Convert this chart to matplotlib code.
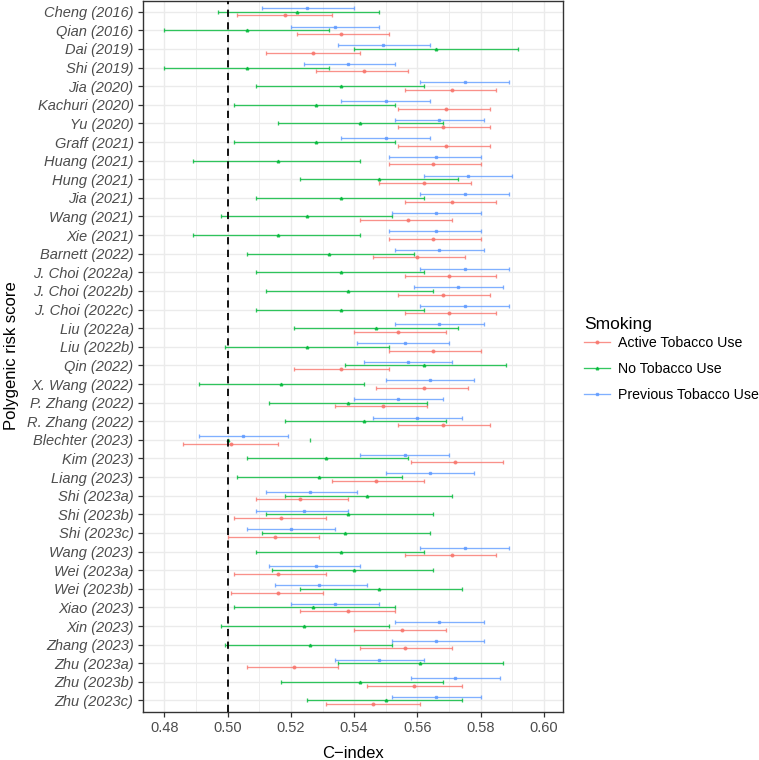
import numpy as np
import matplotlib
matplotlib.use("Agg")
import matplotlib.pyplot as plt
from matplotlib.lines import Line2D
from matplotlib.ticker import MultipleLocator

plt.rcParams['font.family'] = ['Liberation Sans', 'DejaVu Sans']

studies = ["Cheng (2016)", "Qian (2016)", "Dai (2019)", "Shi (2019)", "Jia (2020)",
           "Kachuri (2020)", "Yu (2020)", "Graff (2021)", "Huang (2021)", "Hung (2021)",
           "Jia (2021)", "Wang (2021)", "Xie (2021)", "Barnett (2022)", "J. Choi (2022a)",
           "J. Choi (2022b)", "J. Choi (2022c)", "Liu (2022a)", "Liu (2022b)", "Qin (2022)",
           "X. Wang (2022)", "P. Zhang (2022)", "R. Zhang (2022)", "Blechter (2023)",
           "Kim (2023)", "Liang (2023)", "Shi (2023a)", "Shi (2023b)", "Shi (2023c)",
           "Wang (2023)", "Wei (2023a)", "Wei (2023b)", "Xiao (2023)", "Xin (2023)",
           "Zhang (2023)", "Zhu (2023a)", "Zhu (2023b)", "Zhu (2023c)"]

# Active Tobacco Use
active_est = [0.518, 0.536, 0.527, 0.543, 0.571, 0.569, 0.568, 0.569, 0.565, 0.562,
              0.571, 0.557, 0.565, 0.560, 0.570, 0.568, 0.570, 0.554, 0.565, 0.536,
              0.562, 0.549, 0.568, 0.501, 0.572, 0.547, 0.523, 0.517, 0.515, 0.571,
              0.516, 0.516, 0.538, 0.555, 0.556, 0.521, 0.559, 0.546]
active_lo = [0.503, 0.522, 0.512, 0.528, 0.556, 0.554, 0.554, 0.554, 0.551, 0.548,
             0.556, 0.542, 0.551, 0.546, 0.556, 0.554, 0.556, 0.540, 0.551, 0.521,
             0.547, 0.534, 0.554, 0.486, 0.558, 0.533, 0.509, 0.502, 0.500, 0.556,
             0.502, 0.501, 0.523, 0.540, 0.542, 0.506, 0.544, 0.531]
active_hi = [0.533, 0.551, 0.542, 0.557, 0.585, 0.583, 0.583, 0.583, 0.580, 0.577,
             0.585, 0.571, 0.580, 0.575, 0.585, 0.583, 0.585, 0.569, 0.580, 0.551,
             0.576, 0.563, 0.583, 0.516, 0.587, 0.562, 0.538, 0.531, 0.529, 0.585,
             0.531, 0.530, 0.553, 0.569, 0.571, 0.535, 0.574, 0.561]

# No Tobacco Use
no_est = [0.522, 0.506, 0.566, 0.506, 0.536, 0.528, 0.542, 0.528, 0.516, 0.548,
          0.536, 0.525, 0.516, 0.532, 0.536, 0.538, 0.536, 0.547, 0.525, 0.562,
          0.517, 0.538, 0.543, 0.500, 0.531, 0.529, 0.544, 0.538, 0.537, 0.536,
          0.540, 0.548, 0.527, 0.524, 0.526, 0.561, 0.542, 0.550]
no_lo = [0.497, 0.480, 0.540, 0.480, 0.509, 0.502, 0.516, 0.502, 0.489, 0.523,
         0.509, 0.498, 0.489, 0.506, 0.509, 0.512, 0.509, 0.521, 0.499, 0.537,
         0.491, 0.513, 0.518, np.nan, 0.506, 0.503, 0.518, 0.512, 0.511, 0.509,
         0.514, 0.523, 0.502, 0.498, 0.499, 0.535, 0.517, 0.525]
no_hi = [0.548, 0.532, 0.592, 0.532, 0.562, 0.553, 0.568, 0.553, 0.542, 0.573,
         0.562, 0.552, 0.542, 0.559, 0.562, 0.565, 0.562, 0.573, 0.551, 0.588,
         0.543, 0.563, 0.569, 0.526, 0.557, 0.555, 0.571, 0.565, 0.564, 0.562,
         0.565, 0.574, 0.553, 0.551, 0.552, 0.587, 0.568, 0.574]

# Previous Tobacco Use
prev_est = [0.525, 0.534, 0.549, 0.538, 0.575, 0.550, 0.567, 0.550, 0.566, 0.576,
            0.575, 0.566, 0.566, 0.567, 0.575, 0.573, 0.575, 0.567, 0.556, 0.557,
            0.564, 0.554, 0.560, 0.505, 0.556, 0.564, 0.526, 0.524, 0.520, 0.575,
            0.528, 0.529, 0.534, 0.567, 0.566, 0.548, 0.572, 0.566]
prev_lo = [0.511, 0.520, 0.535, 0.524, 0.561, 0.536, 0.553, 0.536, 0.551, 0.562,
           0.561, 0.552, 0.551, 0.553, 0.561, 0.559, 0.561, 0.553, 0.541, 0.543,
           0.550, 0.540, 0.546, 0.491, 0.542, 0.550, 0.512, 0.509, 0.506, 0.561,
           0.513, 0.515, 0.520, 0.553, 0.552, 0.534, 0.558, 0.552]
prev_hi = [0.540, 0.548, 0.564, 0.553, 0.589, 0.564, 0.581, 0.564, 0.580, 0.590,
           0.589, 0.580, 0.580, 0.581, 0.589, 0.587, 0.589, 0.581, 0.570, 0.571,
           0.578, 0.568, 0.574, 0.519, 0.570, 0.578, 0.541, 0.538, 0.534, 0.589,
           0.542, 0.544, 0.548, 0.581, 0.581, 0.562, 0.586, 0.580]

series = [
    ("Active Tobacco Use", active_est, active_lo, active_hi, "#F8766D", "o", 0.2),
    ("No Tobacco Use", no_est, no_lo, no_hi, "#00BA38", "^", 0.0),
    ("Previous Tobacco Use", prev_est, prev_lo, prev_hi, "#619CFF", "s", -0.2),
]

fig = plt.figure(figsize=(7.59, 7.60), dpi=100)
ax = fig.add_axes([0.1888, 0.0636, 0.5526, 0.9357])

ypos = np.arange(len(studies))
for name, est, lo, hi, col, mk, off in series:
    est = np.array(est)
    lo = np.array(lo)
    hi = np.array(hi)
    ax.errorbar(est, ypos + off, xerr=[est - lo, hi - est], fmt=mk, color=col,
                ms=1.9, elinewidth=0.95, capsize=1.6, capthick=0.95, alpha=0.8,
                zorder=3)

ax.axvline(0.5, color="black", lw=1.3, ls=(0, (4, 3)), zorder=4)

ax.set_xlim(0.4733, 0.606)
ax.set_ylim(len(studies) - 0.4, -0.6)
ax.set_yticks(ypos)
ax.set_yticklabels(studies, fontstyle="italic")
ax.xaxis.set_minor_locator(MultipleLocator(0.01))
ax.set_xticks(np.arange(0.48, 0.601, 0.02))
ax.set_xticklabels([f"{v:.2f}" for v in np.arange(0.48, 0.601, 0.02)])

ax.grid(True, which="major", color="#EBEBEB", lw=1.0, zorder=0)
ax.grid(True, which="minor", axis="x", color="#EBEBEB", lw=0.6, zorder=0)
ax.set_axisbelow(True)
ax.tick_params(axis="both", which="major", colors="#333333", labelcolor="#4D4D4D",
               labelsize=10.5, length=3.5, width=0.9)
ax.tick_params(axis="x", which="minor", length=0)
for s in ax.spines.values():
    s.set_color("#333333")
    s.set_linewidth(1.0)

ax.set_xlabel("C\u2212index", fontsize=12, color="black", labelpad=8)
ax.set_ylabel("Polygenic risk score", fontsize=12, color="black", labelpad=6)

handles = [Line2D([], [], color=col, marker=mk, ms=1.9, lw=0.95, alpha=0.8)
           for name, est, lo, hi, col, mk, off in series]
labels = [s[0] for s in series]
leg = fig.legend(handles, labels, title="Smoking", loc="upper left",
                 bbox_to_anchor=(0.762, 0.591), frameon=False, fontsize=10.2,
                 title_fontsize=12.5, handlelength=1.8, labelspacing=0.85,
                 handletextpad=0.6, borderaxespad=0)
leg._legend_box.align = "left"
leg._legend_box.sep = 3

fig.savefig("out.png", dpi=100)
